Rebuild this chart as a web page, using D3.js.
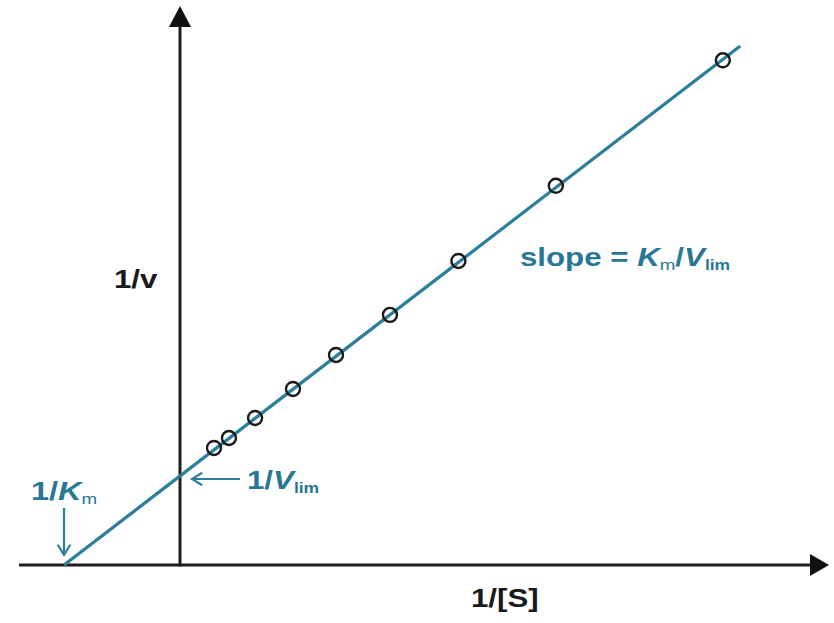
<!DOCTYPE html>
<html><head><meta charset="utf-8">
<script src="https://cdn.jsdelivr.net/npm/d3@7"></script>
<style>html,body{margin:0;padding:0;background:#fff;} svg{display:block;}</style>
</head><body>
<svg id="chart" width="834" height="623"></svg>
<script>
// Data (arbitrary units: 1/Km = -1, 1/Vlim = 1)
const invS = [0.293, 0.422, 0.647, 0.974, 1.345, 1.81, 2.40, 3.24, 4.68];
const invV = [1.315, 1.427, 1.652, 1.978, 2.36, 2.81, 3.416, 4.26, 5.67];
const fitX = [-1, 4.83];
const fitY = [0, 5.83];
const xIntercept = -1;   // 1/Km (negative)
const yIntercept = 1;    // 1/Vlim
const xLabel = "1/[S]";
const yLabel = "1/v";

const teal = "#2b7f9c";
const tealText = "#277795";
const sx = 1.25;

const svg = d3.select("#chart");
const x = d3.scaleLinear().domain([-1.388, 5.595]).range([19, 829]);
const y = d3.scaleLinear().domain([0, 6.28]).range([565, 6]);

// axes
svg.append("line").attr("x1", x(-1.388)).attr("x2", 813).attr("y1", y(0)).attr("y2", y(0))
  .attr("stroke", "#1e1e1e").attr("stroke-width", 3);
svg.append("line").attr("x1", x(0)).attr("x2", x(0)).attr("y1", y(0)+1.5).attr("y2", 24)
  .attr("stroke", "#1e1e1e").attr("stroke-width", 3);
svg.append("path").attr("d", `M${x(0)},6 L${x(0)-11},27 L${x(0)+11},27 Z`).attr("fill", "#111");
svg.append("path").attr("d", `M829,${y(0)} L810,${y(0)-11} L810,${y(0)+11} Z`).attr("fill", "#111");

// fit line
const line = d3.line().x((d,i)=>x(fitX[i])).y((d,i)=>y(fitY[i]));
svg.append("path").datum(fitX).attr("d", line).attr("fill", "none")
  .attr("stroke", teal).attr("stroke-width", 3.3);

// points
svg.selectAll("circle.pt").data(invS).enter().append("circle").attr("class","pt")
  .attr("cx", d=>x(d)).attr("cy", (d,i)=>y(invV[i])).attr("r", 7)
  .attr("fill", "none").attr("stroke", "#1a1a1a").attr("stroke-width", 2.4);

// annotation arrows
function openArrow(x1,y1,x2,y2){
  const g = svg.append("g").attr("stroke", teal).attr("stroke-width", 2.2).attr("fill","none");
  g.append("line").attr("x1",x1).attr("y1",y1).attr("x2",x2).attr("y2",y2);
  const ang = Math.atan2(y2-y1, x2-x1), L = 12, w = 0.55;
  const p1 = [x2 - L*Math.cos(ang-w), y2 - L*Math.sin(ang-w)];
  const p2 = [x2 - L*Math.cos(ang+w), y2 - L*Math.sin(ang+w)];
  g.append("path").attr("d", `M${p1[0]},${p1[1]} L${x2},${y2} L${p2[0]},${p2[1]}`);
}
openArrow(x(xIntercept), 508, x(xIntercept), y(0)-10);
openArrow(240, y(yIntercept)+3, x(0)+12, y(yIntercept)+3);

// text helper with horizontal stretch
function txt(px, py, parts, color, weight){
  const t = svg.append("text").attr("transform", `translate(${px},${py}) scale(${sx},1)`)
    .attr("font-family", "Liberation Sans, Arial, sans-serif").attr("fill", color)
    .attr("font-weight", weight || "bold");
  parts.forEach(p=>{
    const s = t.append("tspan").text(p.t).attr("font-size", p.size);
    if (p.italic) s.attr("font-style", "italic");
    if (p.dy) s.attr("dy", p.dy);
    if (p.w) s.attr("font-weight", p.w);
  });
  return t;
}
txt(114, 288, [{t: yLabel, size: 25}], "#1a1a1a");
txt(471, 607, [{t: xLabel, size: 25}], "#1a1a1a");
txt(520, 266, [
  {t: "slope = ", size: 25},
  {t: "K", size: 25, italic: true},
  {t: "m", size: 15, dy: 4, w: "normal"},
  {t: "/", size: 25, dy: -4},
  {t: "V", size: 25, italic: true},
  {t: "lim", size: 14, dy: 4}
], tealText);
txt(31, 500, [
  {t: "1/", size: 26},
  {t: "K", size: 26, italic: true},
  {t: "m", size: 15, dy: 4, w: "normal"}
], tealText);
txt(247, 489, [
  {t: "1/", size: 25},
  {t: "V", size: 25, italic: true},
  {t: "lim", size: 14, dy: 4}
], tealText);
</script>
</body></html>
